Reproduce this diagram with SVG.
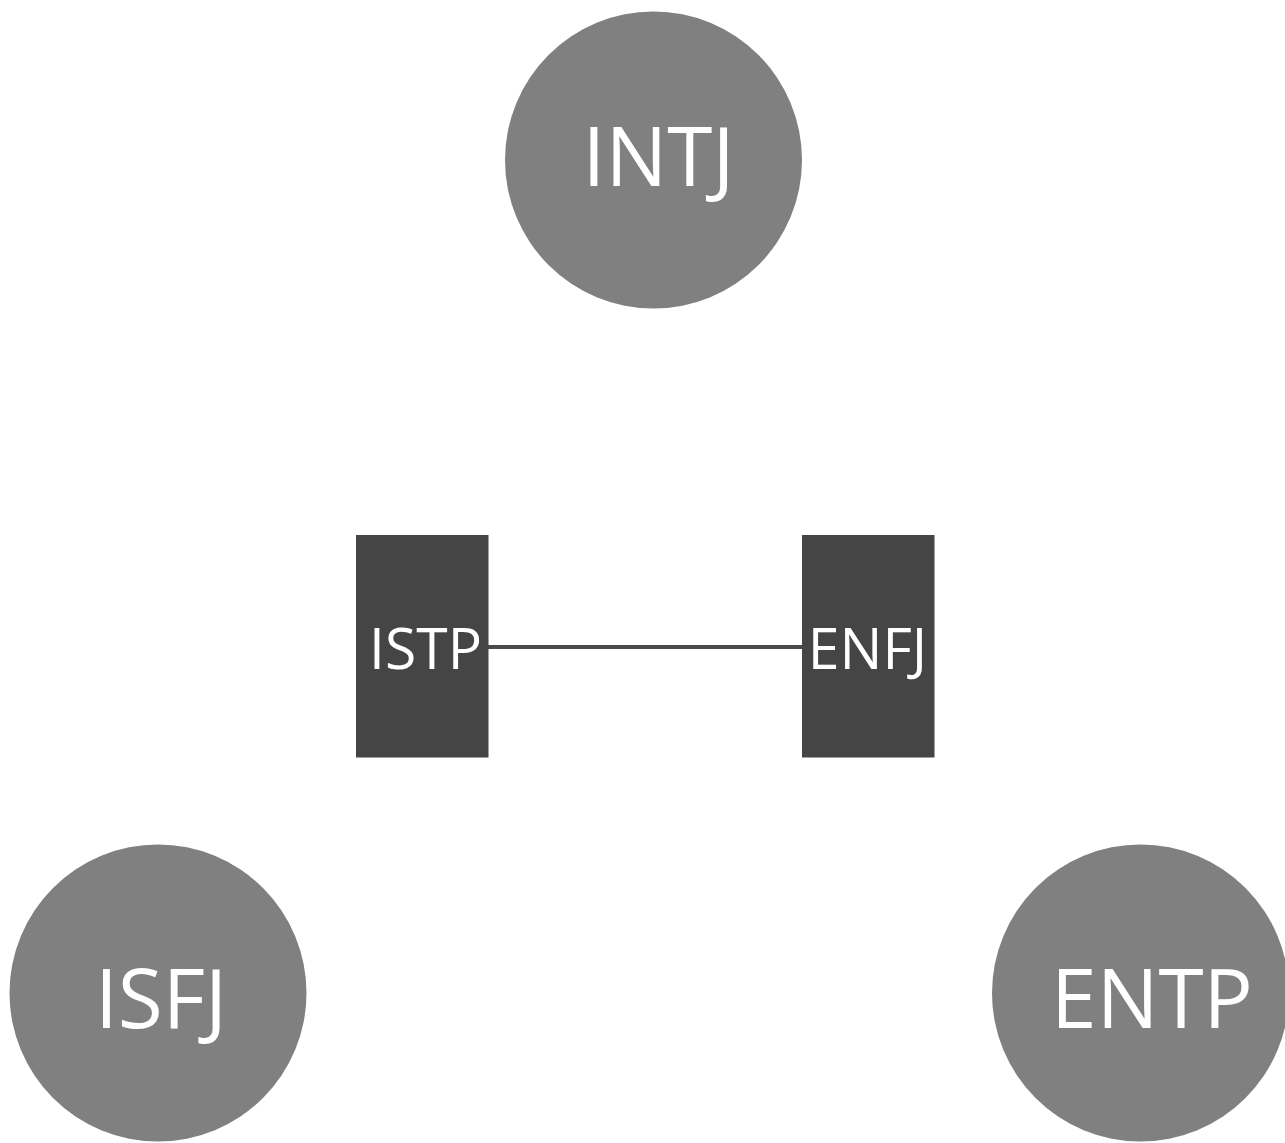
<svg xmlns="http://www.w3.org/2000/svg" width="1285" height="1143" viewBox="0 0 1285 1143">
  <style>
    .circle { fill: #808080; }
    .box { fill: #454545; }
    .label { fill: #ffffff; font-family: "Open Sans", "Liberation Sans", sans-serif; text-anchor: middle; }
    .big { font-size: 82px; }
    .small { font-size: 57px; }
    .edge { stroke: #4a4a4a; stroke-width: 4; fill: none; }
  </style>
  <rect width="1285" height="1143" fill="#ffffff"/>
  <g id="connectors">
    <line class="edge" x1="488" y1="647" x2="802" y2="647"/>
  </g>
  <g id="node-intj">
    <circle class="circle" cx="653.5" cy="160" r="148.5"/>
    <text class="label big" x="658.5" y="185.5">INTJ</text>
  </g>
  <g id="node-isfj">
    <circle class="circle" cx="158" cy="993" r="148.5"/>
    <text class="label big" x="161" y="1028">ISFJ</text>
  </g>
  <g id="node-entp">
    <circle class="circle" cx="1140.5" cy="993" r="148.5"/>
    <text class="label big" x="1152" y="1028">ENTP</text>
  </g>
  <g id="node-istp">
    <rect class="box" x="356" y="535" width="132.5" height="222.5"/>
    <text class="label small" x="425.5" y="668.5">ISTP</text>
  </g>
  <g id="node-enfj">
    <rect class="box" x="802" y="535" width="132.5" height="222.5"/>
    <text class="label small" x="867.5" y="668.5">ENFJ</text>
  </g>
</svg>
